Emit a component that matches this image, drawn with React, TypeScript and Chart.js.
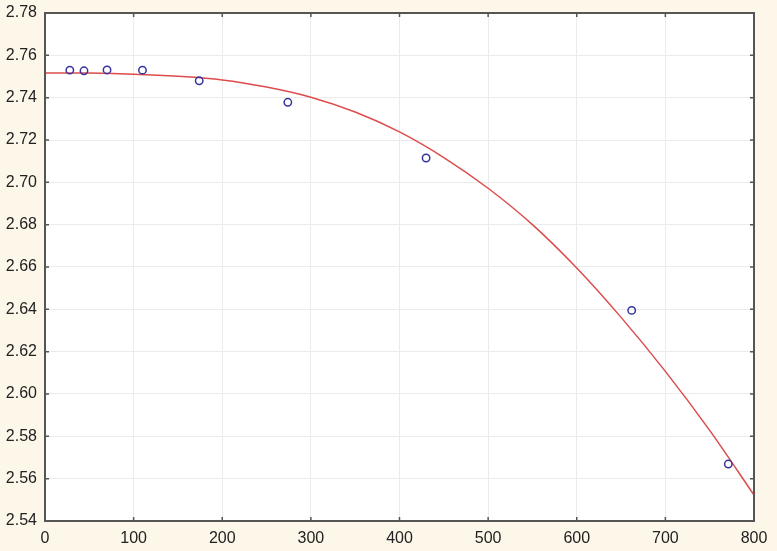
import { useEffect, useRef } from 'react'
import { Chart, registerables } from 'chart.js'

Chart.register(...registerables)

// measured points (x, y)
const pointX = [28, 44, 70, 110, 174, 274, 430, 662, 771]
const pointY = [2.753, 2.7527, 2.7531, 2.753, 2.748, 2.7378, 2.7115, 2.6395, 2.5669]

// fitted curve, every 50 units
const curveX = [0, 50, 100, 150, 200, 250, 300, 350, 400, 450, 500, 550, 600, 650, 700, 750, 800]
const curveY = [
  2.7517, 2.7516, 2.7511, 2.7501, 2.7484, 2.745, 2.7402, 2.7332, 2.7238,
  2.7117, 2.6972, 2.68, 2.6595, 2.6362, 2.6107, 2.5828, 2.5523,
]

const frameColor = '#555555'
const tickFont = { family: 'Liberation Sans, Arial', size: 16 }

// frame round the plot plus small inward tick marks on every side
const framePlugin = {
  id: 'frame',
  afterDraw(chart: Chart) {
    const { ctx, chartArea: a, scales } = chart
    const x = scales.x
    const y = scales.y
    ctx.save()
    ctx.strokeStyle = frameColor
    ctx.lineWidth = 1.5
    const len = 4
    ctx.beginPath()
    x.ticks.forEach((t) => {
      const px = x.getPixelForValue(t.value)
      ctx.moveTo(px, a.bottom)
      ctx.lineTo(px, a.bottom - len)
      ctx.moveTo(px, a.top)
      ctx.lineTo(px, a.top + len)
    })
    y.ticks.forEach((t) => {
      const py = y.getPixelForValue(t.value)
      ctx.moveTo(a.left, py)
      ctx.lineTo(a.left + len, py)
      ctx.moveTo(a.right, py)
      ctx.lineTo(a.right - len, py)
    })
    ctx.stroke()
    ctx.lineWidth = 2
    ctx.strokeRect(a.left, a.top, a.right - a.left, a.bottom - a.top)
    ctx.restore()
  },
}

const plotBgPlugin = {
  id: 'plotBg',
  beforeDraw(chart: Chart) {
    const { ctx, chartArea: a, width, height } = chart
    ctx.save()
    ctx.fillStyle = '#fdf7ea'
    ctx.fillRect(0, 0, width, height)
    ctx.fillStyle = '#ffffff'
    ctx.fillRect(a.left, a.top, a.right - a.left, a.bottom - a.top)
    ctx.restore()
  },
}

export default function App() {
  const canvasRef = useRef<HTMLCanvasElement>(null)

  useEffect(() => {
    document.body.style.margin = '0'
    if (!canvasRef.current) return
    const chart = new Chart(canvasRef.current, {
      type: 'scatter',
      data: {
        datasets: [
          {
            data: curveX.map((x, i) => ({ x, y: curveY[i] })),
            showLine: true,
            borderColor: '#dd4c4c',
            borderWidth: 1.5,
            pointRadius: 0,
            cubicInterpolationMode: 'monotone',
            order: 2,
          },
          {
            data: pointX.map((x, i) => ({ x, y: pointY[i] })),
            borderColor: '#3535a0',
            backgroundColor: 'rgba(0,0,0,0)',
            borderWidth: 1.5,
            pointRadius: 3.7,
            order: 1,
          },
        ],
      },
      options: {
        responsive: false,
        animation: false,
        layout: { padding: { top: 13, right: 23, left: 0, bottom: 0 } },
        plugins: { legend: { display: false }, tooltip: { enabled: false } },
        scales: {
          x: {
            type: 'linear',
            min: 0,
            max: 800,
            ticks: {
              stepSize: 100,
              padding: 8,
              color: '#222222',
              font: tickFont,
            },
            grid: { color: '#ebebeb', drawTicks: false },
            border: { display: false },
            afterFit: (s) => { s.height = 30 },
          },
          y: {
            min: 2.54,
            max: 2.78,
            ticks: {
              stepSize: 0.02,
              padding: 8,
              color: '#222222',
              font: tickFont,
              callback: (v) => Number(v).toFixed(2),
            },
            grid: { color: '#ebebeb', drawTicks: false },
            border: { display: false },
            afterFit: (s) => {
              s.width = 45
              s.paddingTop = 0
              s.paddingBottom = 0
            },
          },
        },
      },
      plugins: [plotBgPlugin, framePlugin],
    })
    return () => { chart.destroy() }
  }, [])

  return (
    <div style={{ width: 777, height: 551, background: '#fdf7ea' }}>
      <canvas ref={canvasRef} width={777} height={551} style={{ display: 'block', width: 777, height: 551 }} />
    </div>
  )
}
